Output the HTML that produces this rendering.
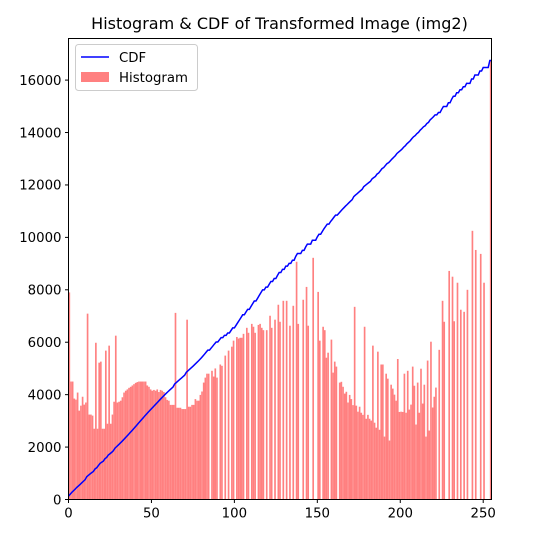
<!DOCTYPE html>
<html><head><meta charset="utf-8"><style>
html,body{margin:0;padding:0;background:#fff;}
svg text{font-family:"DejaVu Sans","Liberation Sans",sans-serif;}
</style></head><body>
<svg id="chart" width="546" height="555" viewBox="0 0 546 555" xmlns="http://www.w3.org/2000/svg">
<rect width="546" height="555" fill="#fff"/>
<text x="279.5" y="29" font-size="16" text-anchor="middle" fill="#000">Histogram &amp; CDF of Transformed Image (img2)</text>
<g id="bars"></g>
<polyline id="cdf" fill="none" stroke="#0000ff" stroke-width="1.5"/>
<rect x="68.5" y="38.5" width="423" height="461" fill="none" stroke="#000" stroke-width="1"/>
<g id="xticks"></g>
<g id="yticks"></g>
<g>
<rect x="75.5" y="44.5" width="122" height="46" rx="3" fill="#fff" fill-opacity="0.8" stroke="#ccc"/>
<line x1="81" y1="57" x2="109" y2="57" stroke="#0000ff" stroke-width="1.5"/>
<text x="119" y="62" font-size="13.3">CDF</text>
<rect x="81" y="72" width="28" height="10" fill="#ff8080"/>
<text x="119" y="82" font-size="13.3">Histogram</text>
</g>
</svg>
<script>
const histA = [7900,4500,4500,3850,3810,4080,3390,3580,3920,3620,3700,7090,3240,3240,3200,2700,5980,2700,5220,5260,2700,2700,5680,2890,5870,2890,3240,3730,6250,3700,3730,3770,3900,4080,4150,4200,4260,4300,4350,4400,4450,4480,4500,4500,4500,4500,4500,4350,4300,4200,4150,4180];
const histB = [4150,4200,4100,4180,4150,4100,3900,3800,3770,3610,3610,3610,7120,3500,3500,3500,3450,3450,3450,6860,3540,3540,3610,3610,3830,3770,3770,3990,4120,4460,4650,4800,4800,0,4910,4690,5000,4650,0,5150,5100,0,5490,0,5680,0,5830,6060,0,6200,6140];
const histC = [6170,6170,6320,0,6550,6360,0,6700,6590,6360,0,6660,6700,6550,6460,0,6460,0,7010,6550,0,6860,0,7430,6780,0,7580,0,7580,0,6630,0,7390,0,9070,6700,0,0,7620,0,8110,6630,0,0,9220,0,0,7920,6060,0,6590,6460];
const histD = [5410,5600,0,6100,4840,5260,5070,0,4460,4490,4300,4040,4110,3700,3990,3830,3600,7350,3580,3350,3540,3310,3230,6590,3080,3230,3080,3010,5870,2930,2740,5640,2660,5150,5150,2400,4800,4610,2250,4380,4230,4000,3770,5360,3340,3350,3340,4800];
const histE = [3310,4910,3430,3620,5070,4340,2860,4460,3310,4990,3660,4380,2400,5300,2630,6020,3510,3920,4270,0,5710,0,7580,6780,0,0,8720,0,8500,6800,0,8270,0,7240,0,7160,0,8000,0,0,10250,0,9520,0,0,9370,0,8270,0,0,0,16750,0];
const yTickVals = [0,2000,4000,6000,8000,10000,12000,14000,16000];
const xTickVals = [0,50,100,150,200,250];

let hist = histA.concat(histB, histC, histD, histE);
while (hist.length < 256) hist.push(0);
hist = hist.slice(0, 256);

const L = 68.5, R = 491.5, T = 38.5, B = 499.5;
const xMin = 0, xMax = 255, yMin = 0, yMax = 17587;
const xs = v => L + (v - xMin) / (xMax - xMin) * (R - L);
const ys = v => B - (v - yMin) / (yMax - yMin) * (B - T);
const NS = 'http://www.w3.org/2000/svg';

const barsG = document.getElementById('bars');
hist.forEach((v, i) => {
  if (v <= 0) return;
  const x0 = xs(i), x1 = Math.min(xs(i + 1), R);
  if (x1 <= x0) return;
  const r = document.createElementNS(NS, 'rect');
  r.setAttribute('x', x0);
  r.setAttribute('y', ys(v));
  r.setAttribute('width', x1 - x0);
  r.setAttribute('height', B - ys(v));
  r.setAttribute('fill', '#ff8080');
  
  
  barsG.appendChild(r);
});

const total = hist.reduce((a, b) => a + b, 0);
const hmax = Math.max(...hist);
let cum = 0;
const pts = hist.map((v, i) => {
  cum += v;
  return xs(i).toFixed(2) + ',' + ys(cum * hmax / total).toFixed(2);
});
document.getElementById('cdf').setAttribute('points', pts.join(' '));

const xg = document.getElementById('xticks');
xTickVals.forEach(v => {
  const x = xs(v);
  const l = document.createElementNS(NS, 'line');
  l.setAttribute('x1', x); l.setAttribute('x2', x);
  l.setAttribute('y1', B); l.setAttribute('y2', B + 3.5);
  l.setAttribute('stroke', '#000');
  
  
  xg.appendChild(l);
  const t = document.createElementNS(NS, 'text');
  t.setAttribute('x', x); t.setAttribute('y', B + 18);
  t.setAttribute('font-size', '13.3');
  t.setAttribute('text-anchor', 'middle');
  
  
  t.textContent = v;
  xg.appendChild(t);
});

const yg = document.getElementById('yticks');
yTickVals.forEach(v => {
  const y = ys(v);
  const l = document.createElementNS(NS, 'line');
  l.setAttribute('x1', L - 3.5); l.setAttribute('x2', L);
  l.setAttribute('y1', y); l.setAttribute('y2', y);
  l.setAttribute('stroke', '#000');
  
  
  yg.appendChild(l);
  const t = document.createElementNS(NS, 'text');
  t.setAttribute('x', L - 7); t.setAttribute('y', y + 4.8);
  t.setAttribute('font-size', '13.3');
  t.setAttribute('text-anchor', 'end');
  
  
  t.textContent = v;
  yg.appendChild(t);
});
</script>
</body></html>
